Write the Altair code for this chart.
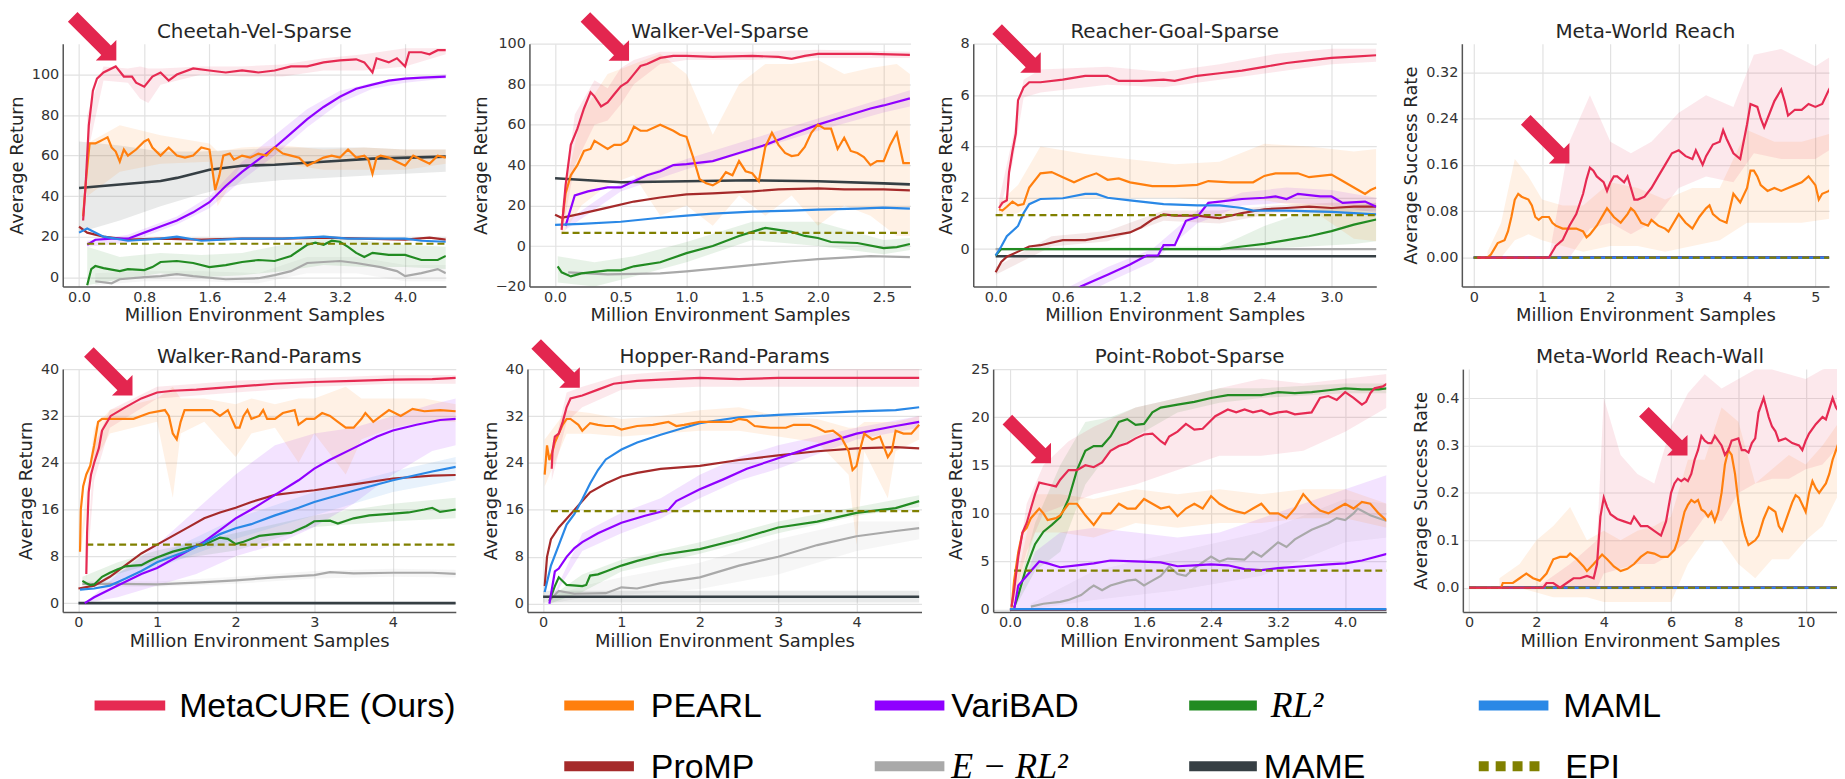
import altair as alt
import pandas as pd

# ---------------- methods / colours ----------------
METHODS = ["MetaCURE (Ours)", "PEARL", "VariBAD", "RL2", "MAML", "ProMP", "E-RL2", "MAME", "EPI"]
COLORS = ["#e62a52", "#ff7f0e", "#8f00ff", "#228b22", "#2a88e6", "#a52a2a", "#a9a9a9", "#363f44", "#808000"]
COLOR = dict(zip(METHODS, COLORS))
DRAW_ORDER = ["E-RL2", "MAME", "ProMP", "RL2", "VariBAD", "MAML", "PEARL", "EPI", "MetaCURE (Ours)"]

# ---------------- Cheetah-Vel-Sparse ----------------
CHEETAH_LINES = {
    "MetaCURE (Ours)": ([0.05, 0.08, 0.12, 0.17, 0.22, 0.3, 0.45, 0.55, 0.65, 0.7, 0.8, 0.9, 1.0, 1.1, 1.2, 1.4, 1.6, 1.8, 2.0, 2.2, 2.4, 2.6, 2.8, 3.0, 3.2, 3.4, 3.5, 3.6, 3.65, 3.8, 3.9, 4.0, 4.05, 4.2, 4.3, 4.4, 4.5],
                        [28, 45, 75, 92, 98, 101, 104, 99, 99, 96, 94, 99, 101, 97, 100, 103, 102, 101, 102, 101, 102, 104, 104, 106, 107, 107.5, 106, 101, 108, 106, 108, 104, 111, 111, 110, 112, 112]),
    "PEARL": ([0.05, 0.09, 0.13, 0.2, 0.25, 0.3, 0.35, 0.4, 0.45, 0.5, 0.55, 0.6, 0.7, 0.8, 0.85, 0.9, 1.0, 1.1, 1.2, 1.3, 1.4, 1.5, 1.6, 1.63, 1.67, 1.72, 1.77, 1.85, 1.9, 2.0, 2.1, 2.2, 2.3, 2.4, 2.5, 2.6, 2.7, 2.8, 2.9, 3.0, 3.1, 3.2, 3.3, 3.4, 3.5, 3.55, 3.6, 3.65, 3.7, 3.8, 3.9, 4.0, 4.1, 4.2, 4.3, 4.4, 4.5],
              [30, 50, 66, 66, 67, 68, 69, 64, 62, 57, 63, 60, 63, 67, 68, 64, 60, 64, 60, 59, 60, 64, 63, 55, 43, 50, 60, 61, 58, 60, 59, 61, 60, 64, 61, 60, 59, 55, 57, 59, 60, 59, 63, 59, 60, 58, 51, 59, 60, 59, 57, 55, 60, 58, 56, 60, 59]),
    "VariBAD": ([0.1, 0.2, 0.4, 0.6, 0.8, 1.0, 1.2, 1.4, 1.6, 1.8, 2.0, 2.2, 2.4, 2.6, 2.8, 3.0, 3.2, 3.4, 3.6, 3.8, 4.0, 4.2, 4.5],
                [16, 18.5, 19, 19, 22, 25, 28, 32, 37, 45, 52, 58, 64, 71, 78, 84, 89, 93, 95, 97, 98, 98.5, 99]),
    "RL2": ([0.1, 0.15, 0.2, 0.3, 0.5, 0.6, 0.8, 0.9, 1.0, 1.2, 1.4, 1.6, 1.8, 2.0, 2.2, 2.4, 2.6, 2.8, 2.9, 3.0, 3.1, 3.2, 3.3, 3.4, 3.5, 3.6, 3.8, 4.0, 4.2, 4.4, 4.5],
            [-4, 4, 5.5, 4.5, 3, 4, 3.5, 5, 7.5, 8, 7, 5, 6, 7.5, 8.5, 8, 10.5, 16, 17, 16, 18, 17.5, 15, 12, 10, 12, 11, 11, 8.5, 8.5, 10.5]),
    "MAML": ([0.0, 0.1, 0.3, 0.6, 1.0, 1.2, 1.5, 2.0, 2.5, 3.0, 3.3, 3.6, 4.0, 4.2, 4.5],
             [22, 24, 20, 18, 19, 20, 18, 19, 19, 20, 19, 19, 19, 18, 17.5]),
    "ProMP": ([0.0, 0.1, 0.3, 0.6, 1.0, 1.5, 2.0, 2.5, 3.0, 3.5, 4.0, 4.3, 4.5],
              [25, 22, 20, 18.5, 19, 18.5, 19, 19, 19.5, 19, 18.5, 19.5, 18.5]),
    "E-RL2": ([0.2, 0.4, 0.5, 0.8, 1.0, 1.2, 1.4, 1.8, 2.2, 2.4, 2.6, 2.8, 3.0, 3.2, 3.4, 3.7, 3.9, 4.0, 4.2, 4.4, 4.5],
              [-2, -3, -1, 0, 0.5, 1.5, 0.5, -1, -0.5, 1, 3, 7, 7.5, 8, 7, 5, 3, 0.5, 2, 4, 2]),
    "MAME": ([0.0, 1.0, 1.2, 1.6, 2.0, 2.4, 3.0, 3.6, 4.5],
             [44, 47.5, 49, 53, 55, 55.5, 57, 58.5, 59.5]),
    "EPI": ([0.1, 4.5], [16.5, 16.5]),
}
CHEETAH_BANDS = {
    "MetaCURE (Ours)": ([0.1, 0.3, 0.6, 0.75, 0.85, 1.0, 1.5, 2.0, 2.5, 3.0, 3.5, 4.0, 4.5],
                        [60, 97, 96, 88, 86, 95, 100, 99, 99, 102, 102, 104, 110],
                        [80, 104, 103, 104, 103, 103, 104, 104, 105, 108, 110, 113, 113]),
    "PEARL": ([0.1, 0.5, 1.0, 1.6, 1.7, 2.0, 2.5, 3.0, 3.5, 4.0, 4.5],
              [40, 52, 56, 57, 35, 56, 56, 53, 53, 53, 56],
              [66, 75, 70, 66, 62, 64, 65, 63, 64, 63, 63]),
    "MAME": ([0.0, 0.5, 1.0, 1.5, 2.0, 2.5, 3.0, 3.5, 4.0, 4.5],
             [22, 28, 35, 41, 46, 48, 49, 50, 51, 52],
             [67, 65, 62, 62, 63, 64, 64, 64, 63, 63]),
    "VariBAD": ([0.1, 0.6, 1.2, 1.6, 2.0, 2.4, 2.8, 3.2, 3.6, 4.0, 4.5],
                [15, 17, 26, 34, 48, 60, 74, 86, 93, 96, 98],
                [18, 21, 30, 40, 57, 70, 83, 92, 96, 98, 100]),
    "RL2": ([0.1, 0.5, 1.0, 1.5, 2.0, 2.5, 3.0, 3.5, 4.0, 4.5],
            [-4, -1, 2, 0, 1, 3, 6, 5, 5, 4],
            [15, 10, 12, 11, 12, 16, 21, 18, 16, 15]),
    "E-RL2": ([0.2, 0.8, 1.5, 2.2, 2.8, 3.4, 4.0, 4.5],
              [-4, -2, -2, -3, 2, 2, -2, -2],
              [2, 3, 3, 2, 10, 10, 6, 6]),
}

# ---------------- Walker-Vel-Sparse ----------------
WALKERVEL_LINES = {
    "MetaCURE (Ours)": ([0.05, 0.08, 0.12, 0.17, 0.22, 0.27, 0.3, 0.35, 0.4, 0.45, 0.5, 0.55, 0.6, 0.65, 0.7, 0.8, 0.9, 1.0, 1.2, 1.5, 1.7, 1.8, 1.9, 2.0, 2.2, 2.4, 2.7],
                        [8, 30, 50, 58, 68, 76, 74, 69, 71, 75, 79, 81, 85, 89, 90, 93, 94, 94, 93.5, 94, 93.5, 92.5, 94, 95, 95, 95, 94.5]),
    "PEARL": ([0.05, 0.08, 0.12, 0.17, 0.22, 0.27, 0.3, 0.35, 0.4, 0.45, 0.5, 0.55, 0.6, 0.65, 0.7, 0.8, 0.9, 0.95, 1.0, 1.05, 1.1, 1.15, 1.2, 1.25, 1.3, 1.35, 1.4, 1.45, 1.5, 1.55, 1.6, 1.65, 1.7, 1.75, 1.8, 1.85, 1.9, 1.95, 2.0, 2.05, 2.1, 2.15, 2.2, 2.25, 2.3, 2.35, 2.4, 2.45, 2.5, 2.55, 2.6, 2.65, 2.7],
              [10, 26, 35, 40, 47, 48, 52, 50, 48, 50, 50, 52, 59, 57, 57, 60, 57, 55, 54, 44, 33, 31, 30, 32, 36.5, 35, 42, 37, 36, 32, 49, 56, 50, 46, 44.5, 45, 49, 56, 60, 58, 58, 48, 53.5, 47, 46, 44, 40, 42, 42, 50, 56, 41, 41]),
    "VariBAD": ([0.08, 0.15, 0.25, 0.4, 0.5, 0.6, 0.7, 0.8, 0.9, 1.0, 1.2, 1.4, 1.6, 1.8, 2.0, 2.2, 2.4, 2.5, 2.7],
                [10, 25, 27, 29, 29, 32, 35, 37, 40, 40.5, 42, 46, 50, 55, 60, 64, 68, 69.5, 73]),
    "MAME": ([0.0, 0.5, 1.0, 1.5, 2.0, 2.5, 2.7], [33.5, 31.5, 32, 32.5, 32, 31, 30.5]),
    "ProMP": ([0.0, 0.05, 0.2, 0.4, 0.6, 0.8, 1.0, 1.2, 1.5, 1.7, 2.0, 2.2, 2.5, 2.7],
              [15.5, 14, 16, 19, 22, 24, 25.5, 26, 27, 28, 28.5, 28, 28, 27.5]),
    "MAML": ([0.0, 0.2, 0.5, 0.8, 1.0, 1.2, 1.5, 1.8, 2.0, 2.3, 2.5, 2.7],
             [10.5, 11, 12, 14, 15, 16, 17, 17.5, 18, 18.5, 19, 18.5]),
    "EPI": ([0.05, 2.7], [6.5, 6.5]),
    "RL2": ([0.02, 0.05, 0.12, 0.2, 0.4, 0.5, 0.6, 0.8, 1.0, 1.2, 1.4, 1.5, 1.6, 1.7, 1.8, 1.9, 2.0, 2.1, 2.3, 2.5, 2.6, 2.7],
            [-10, -13, -15, -13.5, -12, -12, -10, -8, -3.5, 0, 5, 7, 9, 8, 7, 5, 4, 2, 1.5, -1, -0.5, 1]),
    "E-RL2": ([0.1, 0.4, 0.8, 1.0, 1.4, 1.8, 2.0, 2.4, 2.7], [-13, -14, -13.5, -12.5, -10, -7.5, -6.5, -5, -5.5]),
}
WALKERVEL_BANDS = {
    "PEARL": ([0.05, 0.2, 0.4, 0.6, 0.8, 1.0, 1.2, 1.4, 1.6, 1.8, 2.0, 2.2, 2.4, 2.6, 2.7],
              [5, 20, 30, 35, 15, 20, 10, 25, 15, 25, 10, 20, 15, 5, 5],
              [20, 65, 85, 90, 95, 85, 55, 80, 90, 90, 92, 85, 88, 90, 85]),
    "MetaCURE (Ours)": ([0.05, 0.15, 0.3, 0.4, 0.5, 0.6, 0.8, 1.0, 1.5, 2.0, 2.7],
                        [5, 40, 60, 62, 70, 80, 90, 92, 92, 93, 93],
                        [12, 65, 82, 78, 88, 92, 96, 96, 96, 97, 96]),
    "VariBAD": ([0.08, 0.5, 1.0, 1.5, 2.0, 2.5, 2.7], [8, 27, 38, 47, 57, 66, 69], [12, 31, 43, 53, 63, 73, 77]),
    "RL2": ([0.02, 0.3, 0.6, 1.0, 1.5, 2.0, 2.5, 2.7], [-18, -20, -15, -8, 3, 0, -4, -2], [-5, -8, -5, 2, 12, 12, 3, 4]),
}

# ---------------- Reacher-Goal-Sparse ----------------
REACHER_LINES = {
    "MetaCURE (Ours)": ([0.03, 0.06, 0.1, 0.12, 0.15, 0.18, 0.2, 0.25, 0.3, 0.4, 0.6, 0.8, 1.0, 1.1, 1.3, 1.5, 1.6, 1.8, 2.0, 2.2, 2.4, 2.6, 2.8, 3.0, 3.2, 3.4],
                        [1.6, 1.8, 1.9, 3.0, 3.8, 4.5, 5.8, 6.3, 6.5, 6.5, 6.6, 6.75, 6.75, 6.55, 6.55, 6.6, 6.55, 6.75, 6.85, 6.95, 7.1, 7.25, 7.35, 7.45, 7.5, 7.55]),
    "PEARL": ([0.03, 0.06, 0.1, 0.15, 0.2, 0.25, 0.3, 0.4, 0.5, 0.6, 0.7, 0.8, 0.9, 1.0, 1.1, 1.2, 1.4, 1.6, 1.8, 1.9, 2.1, 2.3, 2.4, 2.5, 2.7, 2.8, 3.0, 3.1, 3.2, 3.3, 3.35, 3.4],
              [1.55, 1.5, 1.65, 1.85, 1.7, 1.75, 2.4, 2.95, 3.0, 2.8, 2.6, 2.8, 2.95, 2.7, 2.75, 2.6, 2.45, 2.45, 2.5, 2.65, 2.6, 2.6, 2.85, 2.95, 2.95, 2.8, 2.9, 2.65, 2.4, 2.15, 2.3, 2.4]),
    "MAML": ([0.0, 0.05, 0.1, 0.2, 0.25, 0.3, 0.4, 0.6, 0.8, 0.9, 1.0, 1.2, 1.5, 1.8, 2.0, 2.2, 2.3, 2.6, 3.0, 3.4],
             [-0.25, 0.1, 0.5, 0.9, 1.4, 1.75, 1.95, 1.98, 2.15, 2.15, 2.0, 1.9, 1.75, 1.7, 1.7, 1.6, 1.5, 1.5, 1.45, 1.35]),
    "VariBAD": ([0.6, 0.76, 1.0, 1.2, 1.35, 1.45, 1.5, 1.6, 1.7, 1.8, 1.9, 2.0, 2.2, 2.4, 2.5, 2.6, 2.7, 2.9, 3.0, 3.1, 3.3, 3.4],
                [-2.0, -1.46, -1.0, -0.6, -0.25, -0.25, 0.15, 0.15, 1.1, 1.25, 1.8, 1.85, 1.95, 2.0, 2.05, 1.95, 2.15, 2.05, 2.05, 1.8, 1.85, 1.65]),
    "ProMP": ([0.0, 0.05, 0.1, 0.2, 0.3, 0.4, 0.6, 0.8, 1.0, 1.2, 1.3, 1.4, 1.5, 1.6, 1.8, 2.0, 2.2, 2.4, 2.6, 2.8, 3.0, 3.2, 3.4],
              [-0.9, -0.5, -0.3, -0.1, 0.1, 0.15, 0.35, 0.35, 0.5, 0.65, 0.85, 1.15, 1.35, 1.3, 1.3, 1.2, 1.4, 1.55, 1.6, 1.65, 1.6, 1.65, 1.65]),
    "EPI": ([0.0, 3.4], [1.32, 1.32]),
    "RL2": ([0.0, 0.05, 2.0, 2.2, 2.4, 2.6, 2.8, 3.0, 3.2, 3.4], [-0.25, 0.0, 0.0, 0.1, 0.2, 0.35, 0.5, 0.7, 0.95, 1.15]),
    "E-RL2": ([0.0, 3.4], [0.0, 0.0]),
    "MAME": ([0.0, 3.4], [-0.28, -0.28]),
}
REACHER_BANDS = {
    "PEARL": ([0.03, 0.2, 0.4, 0.8, 1.2, 1.6, 2.0, 2.4, 2.8, 3.2, 3.4],
              [1.3, 1.4, 2.0, 2.0, 2.0, 2.0, 1.9, 1.9, 1.6, 0.4, 0.3],
              [1.8, 2.5, 4.0, 3.7, 3.5, 3.3, 3.4, 4.1, 4.0, 3.8, 3.9]),
    "MetaCURE (Ours)": ([0.03, 0.15, 0.25, 0.4, 1.0, 1.5, 2.0, 2.5, 3.0, 3.4],
                        [1.4, 3.3, 5.9, 6.1, 6.4, 6.3, 6.6, 6.9, 7.2, 7.3],
                        [1.9, 4.3, 6.6, 7.0, 7.1, 6.9, 7.2, 7.6, 7.8, 7.8]),
    "RL2": ([0.0, 2.0, 2.4, 2.8, 3.2, 3.4], [-0.05, -0.05, 0.0, 0.1, 0.2, 0.3], [0.05, 0.1, 0.9, 1.5, 1.7, 1.8]),
    "VariBAD": ([0.6, 1.0, 1.4, 1.8, 2.2, 2.6, 3.0, 3.4], [-2.2, -1.3, -0.5, 1.0, 1.7, 1.8, 1.7, 1.4], [-1.6, -0.7, 0.0, 1.5, 2.2, 2.4, 2.3, 2.0]),
    "ProMP": ([0.0, 0.5, 1.0, 1.5, 2.0, 2.5, 3.0, 3.4], [-1.0, 0.1, 0.3, 1.1, 1.0, 1.4, 1.4, 1.5], [-0.7, 0.5, 0.7, 1.5, 1.5, 1.7, 1.8, 1.8]),
}

# ---------------- Meta-World Reach ----------------
MWREACH_LINES = {
    "MetaCURE (Ours)": ([0.05, 1.1, 1.15, 1.2, 1.3, 1.4, 1.5, 1.6, 1.65, 1.7, 1.75, 1.8, 1.9, 1.95, 2.0, 2.05, 2.1, 2.2, 2.25, 2.3, 2.35, 2.4, 2.5, 2.6, 2.7, 2.8, 2.9, 3.0, 3.1, 3.2, 3.25, 3.35, 3.4, 3.5, 3.6, 3.65, 3.7, 3.8, 3.9, 4.0, 4.05, 4.15, 4.2, 4.25, 4.3, 4.4, 4.5, 4.55, 4.6, 4.7, 4.8, 4.9, 5.0, 5.1, 5.2, 5.25, 5.3, 5.35],
                        [0, 0, 0.01, 0.02, 0.03, 0.055, 0.075, 0.11, 0.135, 0.155, 0.15, 0.14, 0.13, 0.115, 0.13, 0.14, 0.14, 0.13, 0.14, 0.12, 0.1, 0.1, 0.105, 0.12, 0.14, 0.16, 0.18, 0.185, 0.175, 0.17, 0.185, 0.16, 0.175, 0.195, 0.2, 0.22, 0.205, 0.18, 0.17, 0.23, 0.265, 0.26, 0.24, 0.225, 0.24, 0.27, 0.29, 0.27, 0.245, 0.255, 0.255, 0.265, 0.26, 0.265, 0.29, 0.3, 0.285, 0.29]),
    "PEARL": ([0.05, 0.2, 0.25, 0.3, 0.35, 0.45, 0.5, 0.55, 0.6, 0.65, 0.7, 0.8, 0.85, 0.9, 0.95, 1.0, 1.1, 1.15, 1.2, 1.3, 1.4, 1.5, 1.6, 1.65, 1.7, 1.8, 1.9, 1.95, 2.05, 2.15, 2.25, 2.3, 2.35, 2.45, 2.55, 2.6, 2.7, 2.8, 2.85, 2.9, 3.0, 3.1, 3.15, 3.2, 3.3, 3.4, 3.45, 3.5, 3.6, 3.7, 3.75, 3.8, 3.9, 4.0, 4.05, 4.1, 4.15, 4.2, 4.3, 4.4, 4.5, 4.6, 4.7, 4.8, 4.9, 5.0, 5.05, 5.1, 5.2, 5.3, 5.35],
              [0, 0, 0.005, 0.015, 0.025, 0.03, 0.045, 0.07, 0.1, 0.11, 0.105, 0.1, 0.09, 0.07, 0.065, 0.07, 0.07, 0.06, 0.055, 0.05, 0.05, 0.05, 0.045, 0.035, 0.04, 0.055, 0.075, 0.085, 0.07, 0.06, 0.075, 0.085, 0.08, 0.06, 0.055, 0.065, 0.055, 0.05, 0.045, 0.055, 0.075, 0.06, 0.055, 0.05, 0.07, 0.085, 0.09, 0.075, 0.065, 0.06, 0.085, 0.11, 0.095, 0.12, 0.15, 0.15, 0.14, 0.125, 0.115, 0.12, 0.115, 0.12, 0.125, 0.13, 0.14, 0.125, 0.1, 0.11, 0.115, 0.13, 0.14]),
    "VariBAD": ([0.0, 5.4], [0, 0]),
    "RL2": ([0.0, 5.4], [0, 0]),
    "ProMP": ([0.0, 5.4], [0, 0]),
    "E-RL2": ([0.0, 5.4], [0, 0]),
    "MAME": ([0.0, 5.4], [0, 0]),
    "MAML": ([0.0, 5.4], [0, 0]),
    "EPI": ([0.0, 5.4], [0, 0]),
}
MWREACH_BANDS = {
    "MetaCURE (Ours)": ([1.1, 1.4, 1.7, 2.0, 2.3, 2.6, 3.0, 3.4, 3.8, 4.1, 4.5, 5.0, 5.4],
                        [0, 0.0, 0.05, 0.06, 0.04, 0.06, 0.12, 0.14, 0.13, 0.18, 0.17, 0.17, 0.2],
                        [0.0, 0.2, 0.28, 0.2, 0.18, 0.2, 0.25, 0.28, 0.26, 0.35, 0.36, 0.33, 0.36]),
    "PEARL": ([0.2, 0.4, 0.6, 0.8, 1.0, 1.3, 1.6, 2.0, 2.4, 2.8, 3.2, 3.6, 4.0, 4.4, 4.8, 5.4],
              [0, 0, 0.03, 0.04, 0.03, 0.02, 0.01, 0.02, 0.02, 0.01, 0.02, 0.03, 0.06, 0.06, 0.06, 0.07],
              [0.01, 0.06, 0.17, 0.14, 0.1, 0.09, 0.09, 0.13, 0.12, 0.1, 0.12, 0.12, 0.22, 0.2, 0.2, 0.22]),
}

# ---------------- Walker-Rand-Params ----------------
WALKERRAND_LINES = {
    "MetaCURE (Ours)": ([0.1, 0.11, 0.13, 0.16, 0.2, 0.26, 0.3, 0.41, 0.6, 0.8, 1.0, 1.2, 1.5, 2.0, 2.5, 3.0, 3.5, 4.0, 4.5, 4.8],
                        [5, 12, 19, 22, 24, 26.5, 29.5, 32, 33.5, 35, 36, 36.3, 36.5, 37, 37.5, 37.8, 38, 38.2, 38.3, 38.5]),
    "PEARL": ([0.02, 0.03, 0.06, 0.1, 0.15, 0.2, 0.25, 0.3, 0.5, 0.7, 0.9, 1.1, 1.15, 1.2, 1.25, 1.3, 1.35, 1.5, 1.7, 1.8, 1.9, 1.95, 2.0, 2.05, 2.1, 2.15, 2.2, 2.3, 2.35, 2.4, 2.5, 2.6, 2.75, 2.8, 2.9, 3.0, 3.1, 3.2, 3.3, 3.4, 3.5, 3.6, 3.65, 3.75, 3.85, 3.95, 4.1, 4.25, 4.4, 4.6, 4.8],
              [8.8, 16, 20, 22, 23.5, 27, 31, 31.5, 31.5, 31.5, 32.5, 33, 32, 29, 28, 31, 33, 33, 33, 32, 33, 31.5, 30, 30, 32, 33, 31.5, 32, 33, 31.5, 31.5, 32.5, 33, 30.5, 31.5, 31.5, 32.5, 32, 31, 30, 30, 31.5, 32.5, 31, 32, 33, 32, 33.2, 32.8, 33, 32.8]),
    "VariBAD": ([0.08, 0.2, 0.5, 0.8, 1.0, 1.2, 1.4, 1.6, 1.8, 2.0, 2.2, 2.5, 2.8, 3.0, 3.2, 3.5, 3.8, 4.0, 4.3, 4.6, 4.8],
                [0, 1, 3, 5, 6, 7.5, 9, 10.5, 12.5, 14.5, 16, 18.5, 21, 23, 24.5, 26.5, 28.5, 29.5, 30.5, 31.3, 31.5]),
    "ProMP": ([0.0, 0.2, 0.4, 0.6, 0.8, 1.0, 1.2, 1.4, 1.6, 1.8, 2.0, 2.2, 2.5, 2.8, 3.0, 3.5, 4.0, 4.5, 4.8],
              [2.5, 3, 4.5, 6.5, 8.5, 10, 11.5, 13, 14.5, 15.5, 16.3, 17.3, 18.5, 19, 19.3, 20.3, 21.3, 21.8, 21.9]),
    "MAML": ([0.02, 0.2, 0.4, 0.6, 0.8, 1.0, 1.2, 1.4, 1.6, 1.8, 2.0, 2.2, 2.5, 2.8, 3.0, 3.5, 4.0, 4.5, 4.8],
             [2.3, 2.5, 3, 4.2, 5.5, 7, 8, 9, 10.3, 11.8, 12.8, 13.5, 15, 16.3, 17.3, 19.2, 21, 22.5, 23.3]),
    "RL2": ([0.05, 0.1, 0.15, 0.2, 0.3, 0.4, 0.5, 0.6, 0.7, 0.8, 0.9, 1.0, 1.2, 1.4, 1.6, 1.8, 1.9, 2.0, 2.1, 2.3, 2.5, 2.7, 2.9, 3.0, 3.2, 3.3, 3.5, 3.7, 4.0, 4.2, 4.4, 4.5, 4.6, 4.7, 4.8],
            [3.8, 3.4, 3.1, 3.2, 4.5, 5.2, 5.8, 6.3, 6.4, 6.5, 7.2, 7.8, 8.8, 9.5, 10, 11.2, 11, 10.1, 10.5, 11.5, 11.8, 12, 13.2, 14, 14.1, 13.6, 14.5, 15, 15.3, 15.5, 16, 16.3, 15.6, 15.8, 16]),
    "E-RL2": ([0.05, 0.5, 1.0, 1.5, 2.0, 2.5, 3.0, 3.2, 3.5, 4.0, 4.5, 4.8],
              [3.3, 3.3, 3.2, 3.5, 3.9, 4.4, 4.8, 5.3, 5.1, 5.2, 5.2, 5.0]),
    "MAME": ([0.0, 4.8], [0, 0]),
    "EPI": ([0.1, 4.8], [10, 10]),
}
WALKERRAND_BANDS = {
    "PEARL": ([0.02, 0.2, 0.4, 1.0, 1.2, 1.3, 1.6, 2.0, 2.2, 2.5, 2.8, 3.0, 3.4, 3.6, 4.0, 4.4, 4.8],
              [8, 24, 29, 31, 18, 29, 31, 25, 29, 30, 24, 29, 22, 28, 30, 31, 31],
              [10, 30, 33, 35, 37, 35, 35, 34, 35, 34, 35, 35, 37, 35, 35, 35, 34]),
    "VariBAD": ([0.08, 0.5, 1.0, 1.5, 2.0, 2.5, 3.0, 3.5, 4.0, 4.5, 4.8],
                [0, 1, 3, 5, 8, 10, 13, 17, 22, 26, 27],
                [0, 5, 10, 16, 22, 27, 29, 30, 32, 34, 35]),
    "MAML": ([0.02, 1.0, 2.0, 3.0, 4.0, 4.8], [2, 6, 11, 15, 19, 21], [2.6, 8, 14.5, 19, 22.5, 25]),
    "RL2": ([0.05, 0.5, 1.0, 2.0, 3.0, 4.0, 4.8], [3, 5, 7, 9, 13, 14, 14.5], [4.5, 7, 9, 12, 15, 17, 18]),
    "MetaCURE (Ours)": ([0.1, 0.2, 0.4, 1.0, 2.0, 3.0, 4.0, 4.8], [4, 21, 30, 35, 36, 37, 37.5, 37.5], [6, 27, 33, 37, 38, 38.5, 39, 39]),
    "E-RL2": ([0.05, 1.0, 2.0, 3.0, 4.0, 4.8], [2.8, 2.8, 3.3, 4.2, 4.5, 4.4], [3.8, 3.7, 4.5, 5.5, 5.9, 5.7]),
}

# ---------------- Hopper-Rand-Params ----------------
HOPPER_LINES = {
    "MetaCURE (Ours)": ([0.11, 0.12, 0.15, 0.2, 0.25, 0.3, 0.35, 0.5, 0.7, 0.9, 1.2, 1.5, 2.0, 2.5, 3.0, 3.5, 4.0, 4.5, 4.8],
                        [23, 26, 28.5, 29, 31, 33.5, 35, 35.5, 36.5, 37.5, 38, 38.2, 38.5, 38.3, 38.5, 38.5, 38.5, 38.5, 38.5]),
    "PEARL": ([0.02, 0.05, 0.08, 0.12, 0.15, 0.2, 0.25, 0.3, 0.35, 0.45, 0.5, 0.6, 0.7, 0.8, 0.9, 1.0, 1.2, 1.4, 1.6, 1.7, 1.8, 2.0, 2.2, 2.4, 2.5, 2.6, 2.7, 2.9, 3.1, 3.2, 3.4, 3.5, 3.6, 3.7, 3.8, 3.9, 3.95, 4.0, 4.05, 4.1, 4.2, 4.3, 4.4, 4.45, 4.5, 4.6, 4.7, 4.8],
              [22, 27, 24.5, 26, 27.5, 29, 30.5, 31.5, 31.5, 30.5, 29.5, 30.8, 30.5, 30.3, 30.3, 29.7, 30.3, 30.5, 31, 30.3, 30.5, 31, 31, 31, 31.5, 31.3, 30.3, 30, 30, 30.5, 30.5, 30, 29.3, 29.5, 28.5, 26, 22.8, 23.5, 26.5, 29, 28, 28.5, 25, 26, 29.5, 29, 29, 30.5]),
    "MAML": ([0.02, 0.1, 0.2, 0.3, 0.4, 0.5, 0.6, 0.7, 0.8, 1.0, 1.2, 1.5, 1.8, 2.0, 2.5, 3.0, 3.5, 4.0, 4.5, 4.8],
             [2, 6.5, 10, 13.5, 15.3, 17.8, 20.5, 22.8, 24.6, 26.3, 27.5, 28.8, 30, 30.8, 31.8, 32.2, 32.5, 32.8, 33, 33.5]),
    "ProMP": ([0.02, 0.05, 0.1, 0.2, 0.3, 0.4, 0.5, 0.6, 0.8, 1.0, 1.2, 1.5, 2.0, 2.5, 3.0, 3.5, 4.0, 4.5, 4.8],
              [3, 8, 11, 13, 14.5, 16, 17.5, 19, 20.5, 21.7, 22.3, 23, 23.5, 24.5, 25.3, 26, 26.5, 26.7, 26.5]),
    "VariBAD": ([0.08, 0.15, 0.2, 0.3, 0.4, 0.5, 0.7, 1.0, 1.3, 1.6, 1.7, 2.0, 2.3, 2.6, 3.0, 3.5, 4.0, 4.5, 4.8],
                [0, 5.5, 6, 8, 9.5, 10.5, 12, 13.8, 15, 16, 17.5, 19.5, 21.2, 23, 24.8, 27, 29, 30.3, 31]),
    "RL2": ([0.08, 0.15, 0.2, 0.3, 0.5, 0.55, 0.6, 0.7, 0.8, 1.0, 1.2, 1.5, 2.0, 2.5, 3.0, 3.5, 4.0, 4.5, 4.8],
            [0.5, 3, 4.5, 3.2, 3, 3.2, 4.8, 5, 5.5, 6.5, 7.3, 8.3, 9.3, 11, 13, 14, 15.5, 16.3, 17.5]),
    "E-RL2": ([0.08, 0.2, 0.4, 0.8, 1.0, 1.2, 1.5, 2.0, 2.5, 3.0, 3.5, 4.0, 4.5, 4.8],
              [0.5, 2.2, 1.7, 1.8, 2.8, 2.6, 3.5, 4.5, 6.5, 8, 10, 11.5, 12.4, 12.9]),
    "MAME": ([0.0, 4.8], [1.2, 1.2]),
    "EPI": ([0.1, 4.8], [15.8, 15.8]),
}
HOPPER_BANDS = {
    "MetaCURE (Ours)": ([0.11, 0.3, 0.5, 1.0, 2.0, 3.0, 4.0, 4.8], [21, 31, 33.5, 36.5, 37, 37, 37, 37], [25, 36, 37, 39, 40, 40, 40, 40]),
    "PEARL": ([0.02, 0.3, 0.6, 1.0, 1.5, 2.0, 2.5, 3.0, 3.5, 3.9, 4.0, 4.1, 4.4, 4.5, 4.8],
              [20, 29, 29, 28.5, 29, 29.5, 29.5, 28.5, 27.5, 22, 10, 26, 18, 26, 28],
              [28, 33, 32.5, 31.5, 32, 33, 33.5, 32, 31.5, 30, 30, 31, 31, 31, 32]),
    "VariBAD": ([0.08, 0.5, 1.0, 1.5, 2.0, 2.5, 3.0, 3.5, 4.0, 4.8], [0, 9, 12, 14.5, 18, 21, 23, 25.5, 28, 30], [0, 12, 15.5, 18, 22, 25, 27, 28.5, 30, 32]),
    "E-RL2": ([0.08, 0.5, 1.0, 2.0, 3.0, 4.0, 4.8], [0, 1, 1.5, 2.5, 5, 9, 11], [1, 3, 4.5, 7, 11, 14, 14]),
    "RL2": ([0.08, 0.5, 1.0, 2.0, 3.0, 4.0, 4.8], [0, 2, 5.5, 8.5, 12, 15, 16.5], [1, 5, 7.5, 10.5, 14, 16.5, 18.5]),
    "MAME": ([0.0, 4.8], [0.2, 0.2], [2.2, 2.2]),
}

# ---------------- Point-Robot-Sparse ----------------
POINT_LINES = {
    "MetaCURE (Ours)": ([0.02, 0.05, 0.1, 0.15, 0.2, 0.25, 0.3, 0.35, 0.45, 0.55, 0.6, 0.7, 0.8, 0.9, 1.0, 1.1, 1.2, 1.3, 1.4, 1.5, 1.6, 1.7, 1.8, 1.85, 1.9, 2.0, 2.1, 2.2, 2.3, 2.45, 2.6, 2.7, 2.8, 2.9, 3.0, 3.1, 3.2, 3.3, 3.4, 3.5, 3.6, 3.7, 3.8, 3.9, 4.0, 4.1, 4.2, 4.25, 4.3, 4.35, 4.45, 4.5],
                        [0.3, 2, 5.5, 8, 9, 10.5, 12, 13.2, 13, 12.8, 13.5, 14.5, 14.5, 15, 14.8, 15.3, 16.5, 17, 17.3, 17.8, 18.2, 18.3, 17.5, 17.2, 18, 18.5, 19.3, 18.7, 18.8, 20.1, 20.8, 20.5, 20.8, 20.5, 20.7, 20.3, 20.5, 20.6, 20.3, 20.4, 20.5, 22.0, 22.2, 21.8, 22.6, 22, 21.3, 21.6, 22.5, 23, 23.2, 23.5]),
    "RL2": ([0.05, 0.1, 0.15, 0.2, 0.3, 0.4, 0.5, 0.6, 0.7, 0.8, 0.9, 1.0, 1.1, 1.2, 1.3, 1.4, 1.5, 1.6, 1.7, 1.8, 2.0, 2.2, 2.4, 2.6, 2.8, 3.0, 3.2, 3.4, 3.6, 3.8, 4.0, 4.2, 4.4, 4.5],
            [0.2, 1.5, 3, 4.5, 6.8, 8.1, 8.8, 9.6, 11.5, 14.5, 16.5, 17, 17, 18, 19.5, 19.8, 19.2, 19.3, 20.5, 21, 21.3, 21.6, 22, 22.3, 22.3, 22.3, 22.6, 22.5, 22.6, 22.8, 23, 22.9, 22.9, 23]),
    "PEARL": ([0.02, 0.05, 0.1, 0.15, 0.2, 0.25, 0.35, 0.4, 0.45, 0.55, 0.6, 0.7, 0.8, 0.9, 1.0, 1.1, 1.2, 1.3, 1.4, 1.5, 1.6, 1.7, 1.8, 1.9, 2.0, 2.1, 2.2, 2.3, 2.4, 2.5, 2.6, 2.7, 2.8, 2.9, 3.0, 3.1, 3.2, 3.3, 3.4, 3.5, 3.6, 3.7, 3.8, 3.9, 4.0, 4.1, 4.2, 4.3, 4.4, 4.5],
              [0.2, 3, 6, 8, 8.5, 9.5, 10.5, 10, 9.3, 9.5, 9.8, 11, 11, 9.8, 8.8, 10, 10, 11, 10.5, 10.5, 11.5, 11, 10.5, 10.7, 9.7, 10.5, 11, 10.5, 11.8, 11, 10.5, 10.2, 10, 10.5, 11, 10, 10, 9.5, 10.5, 12, 11, 10.3, 10, 10.5, 11, 10.5, 11.2, 11, 10, 9.2]),
    "VariBAD": ([0.05, 0.1, 0.15, 0.25, 0.35, 0.45, 0.6, 0.8, 1.0, 1.2, 1.5, 1.8, 2.0, 2.2, 2.4, 2.6, 2.8, 3.0, 3.2, 3.5, 3.8, 4.0, 4.2, 4.5],
                [0, 2.5, 3, 4, 5, 4.8, 4.4, 4.6, 4.8, 5.1, 5, 4.9, 4.5, 4.6, 4.7, 4.6, 4.2, 4.1, 4.3, 4.5, 4.7, 4.8, 5.1, 5.8]),
    "E-RL2": ([0.25, 0.4, 0.6, 0.7, 0.85, 0.95, 1.0, 1.1, 1.2, 1.4, 1.5, 1.6, 1.7, 1.8, 1.9, 2.0, 2.1, 2.2, 2.4, 2.5, 2.6, 2.8, 2.9, 3.0, 3.2, 3.3, 3.4, 3.6, 3.8, 3.9, 4.0, 4.1, 4.15, 4.3, 4.4, 4.5],
              [0.3, 0.6, 0.8, 1, 1.5, 2.2, 2.5, 2, 2.5, 3, 3.1, 2.5, 3, 3.5, 4.5, 3.7, 3.5, 4.3, 5.5, 5, 5.3, 5.2, 6, 5.5, 7, 6.5, 7.3, 8.3, 9, 9.5, 9.3, 10, 10.5, 9.8, 9.5, 9.2]),
    "ProMP": ([0.0, 4.5], [0, 0]),
    "MAME": ([0.0, 4.5], [0, 0]),
    "MAML": ([0.0, 4.5], [0.05, 0.05]),
    "EPI": ([0.05, 4.5], [4.05, 4.05]),
}
POINT_BANDS = {
    "VariBAD": ([0.05, 0.3, 0.6, 1.0, 1.5, 2.0, 2.5, 3.0, 3.5, 4.0, 4.5],
                [0, 0, 0, 0, 0, 0, 0, 0, 0, 0, 0],
                [0, 6, 8, 8.5, 8, 7.5, 8, 9.5, 11, 12.5, 14]),
    "MetaCURE (Ours)": ([0.02, 0.2, 0.4, 0.7, 1.0, 1.5, 2.0, 2.5, 3.0, 3.5, 4.0, 4.5],
                        [0, 6, 10, 11, 12, 13, 14.5, 16, 16, 16.5, 18.5, 21],
                        [0.5, 11, 15, 17.5, 19, 21, 22, 23, 24, 23.5, 24, 24.5]),
    "RL2": ([0.05, 0.3, 0.6, 0.9, 1.2, 1.5, 2.0, 2.5, 3.0, 4.0, 4.5],
            [0, 4, 6, 13, 16.5, 18, 20.5, 21.5, 22, 22.5, 22.5],
            [0.5, 9, 15, 19.5, 20, 21, 22, 23, 23, 23.5, 23.5]),
    "PEARL": ([0.02, 0.3, 0.6, 1.0, 1.5, 2.0, 2.5, 3.0, 3.5, 4.0, 4.5],
              [0, 8, 8, 7.5, 9, 8.5, 9, 9, 9.5, 9.5, 8.5],
              [0.5, 12, 12, 11.5, 12.5, 12, 12.5, 12, 12.5, 12.5, 11]),
    "E-RL2": ([0.25, 1.0, 2.0, 3.0, 4.0, 4.5], [0, 1, 2, 3.5, 7, 7.5], [0.6, 4, 6, 8, 11.5, 11]),
}

# ---------------- Meta-World Reach-Wall ----------------
MWWALL_LINES = {
    "MetaCURE (Ours)": ([0.0, 2.2, 2.3, 2.5, 2.7, 2.9, 3.1, 3.3, 3.5, 3.7, 3.8, 3.9, 4.0, 4.1, 4.2, 4.4, 4.6, 4.8, 4.9, 5.1, 5.3, 5.5, 5.7, 5.85, 6.0, 6.1, 6.2, 6.3, 6.4, 6.5, 6.6, 6.7, 6.8, 6.9, 7.0, 7.1, 7.2, 7.3, 7.4, 7.5, 7.6, 7.7, 7.8, 8.0, 8.1, 8.2, 8.3, 8.4, 8.5, 8.6, 8.75, 8.9, 9.0, 9.1, 9.2, 9.4, 9.6, 9.8, 9.9, 10.0, 10.1, 10.3, 10.5, 10.6, 10.8, 10.9, 11.0, 11.1, 11.2, 11.3],
                        [0, 0, 0.01, 0.01, 0, 0.01, 0.02, 0.02, 0.025, 0.02, 0.05, 0.15, 0.19, 0.17, 0.155, 0.145, 0.14, 0.135, 0.15, 0.13, 0.13, 0.12, 0.11, 0.14, 0.2, 0.22, 0.23, 0.225, 0.23, 0.225, 0.24, 0.27, 0.29, 0.32, 0.31, 0.305, 0.305, 0.32, 0.31, 0.3, 0.28, 0.29, 0.31, 0.315, 0.29, 0.29, 0.285, 0.305, 0.315, 0.37, 0.4, 0.36, 0.34, 0.33, 0.31, 0.315, 0.305, 0.3, 0.29, 0.31, 0.325, 0.345, 0.36, 0.355, 0.4, 0.38, 0.37, 0.365, 0.37, 0.365]),
    "PEARL": ([0.0, 0.95, 1.0, 1.3, 1.5, 1.7, 1.9, 2.1, 2.3, 2.5, 2.7, 2.9, 3.0, 3.2, 3.4, 3.5, 3.7, 3.95, 4.1, 4.3, 4.5, 4.7, 4.9, 5.1, 5.3, 5.5, 5.7, 5.9, 6.1, 6.2, 6.3, 6.4, 6.5, 6.6, 6.7, 6.8, 6.9, 7.0, 7.1, 7.2, 7.3, 7.4, 7.5, 7.6, 7.7, 7.8, 7.9, 8.0, 8.1, 8.2, 8.3, 8.4, 8.5, 8.6, 8.75, 8.9, 9.0, 9.1, 9.2, 9.3, 9.4, 9.6, 9.7, 9.8, 9.9, 10.0, 10.1, 10.2, 10.3, 10.4, 10.5, 10.6, 10.7, 10.8, 10.9, 11.0, 11.1, 11.2, 11.3],
              [0, 0, 0.01, 0.01, 0.02, 0.03, 0.02, 0.015, 0.03, 0.06, 0.065, 0.065, 0.072, 0.06, 0.045, 0.035, 0.05, 0.07, 0.06, 0.045, 0.035, 0.04, 0.05, 0.065, 0.075, 0.072, 0.065, 0.065, 0.08, 0.1, 0.13, 0.16, 0.175, 0.185, 0.18, 0.185, 0.165, 0.16, 0.15, 0.16, 0.14, 0.16, 0.2, 0.26, 0.29, 0.28, 0.24, 0.18, 0.14, 0.11, 0.09, 0.095, 0.1, 0.11, 0.145, 0.17, 0.165, 0.16, 0.13, 0.12, 0.14, 0.18, 0.195, 0.19, 0.175, 0.16, 0.2, 0.225, 0.21, 0.2, 0.21, 0.22, 0.24, 0.27, 0.29, 0.31, 0.3, 0.3, 0.29]),
    "VariBAD": ([0.0, 11.3], [0, 0]),
    "RL2": ([0.0, 11.3], [0, 0]),
    "ProMP": ([0.0, 11.3], [0, 0]),
    "E-RL2": ([0.0, 11.3], [0, 0]),
    "MAME": ([0.0, 11.3], [0, 0]),
    "MAML": ([0.0, 11.3], [0, 0]),
    "EPI": ([0.0, 11.3], [0, 0]),
}
MWWALL_BANDS = {
    "MetaCURE (Ours)": ([2.0, 3.0, 3.8, 4.0, 4.5, 5.0, 5.5, 6.0, 6.5, 7.0, 7.5, 8.0, 8.5, 9.0, 9.5, 10.0, 10.5, 11.0, 11.3],
                        [0, 0, 0, 0.03, 0.04, 0.05, 0.05, 0.07, 0.1, 0.15, 0.14, 0.2, 0.22, 0.23, 0.23, 0.25, 0.26, 0.3, 0.3],
                        [0, 0.05, 0.1, 0.4, 0.28, 0.24, 0.22, 0.34, 0.41, 0.45, 0.42, 0.44, 0.46, 0.46, 0.45, 0.44, 0.46, 0.47, 0.47]),
    "PEARL": ([0.9, 1.5, 2.0, 2.5, 3.0, 3.5, 4.0, 4.5, 5.0, 5.5, 6.0, 6.5, 7.0, 7.5, 8.0, 8.5, 9.0, 9.5, 10.0, 10.5, 11.0, 11.3],
              [0, 0, -0.01, -0.02, -0.02, -0.02, -0.03, -0.03, -0.03, -0.03, -0.03, 0.05, 0.1, 0.1, 0.05, 0.02, 0.06, 0.06, 0.1, 0.13, 0.2, 0.2],
              [0.02, 0.05, 0.1, 0.13, 0.17, 0.1, 0.12, 0.1, 0.12, 0.13, 0.15, 0.27, 0.27, 0.38, 0.35, 0.22, 0.25, 0.28, 0.26, 0.3, 0.35, 0.35]),
}

# ---------------- panel settings ----------------
X_TITLE = "Million Environment Samples"
PANELS = [
    dict(title="Cheetah-Vel-Sparse", lines=CHEETAH_LINES, bands=CHEETAH_BANDS, xdom=[-0.2, 4.5], ydom=[-4.6, 115.2],
         xticks=[0, 0.8, 1.6, 2.4, 3.2, 4.0], yticks=[0, 20, 40, 60, 80, 100], xfmt=".1f", yfmt="d",
         ytitle="Average Return", w=385, h=244, arrow=(0.19, 117.7)),
    dict(title="Walker-Vel-Sparse", lines=WALKERVEL_LINES, bands=WALKERVEL_BANDS, xdom=[-0.195, 2.705], ydom=[-20, 100],
         xticks=[0, 0.5, 1.0, 1.5, 2.0, 2.5], yticks=[-20, 0, 20, 40, 60, 80, 100], xfmt=".1f", yfmt="d",
         ytitle="Average Return", w=383, h=244, arrow=(0.397, 102.4)),
    dict(title="Reacher-Goal-Sparse", lines=REACHER_LINES, bands=REACHER_BANDS, xdom=[-0.2, 3.4], ydom=[-1.46, 8],
         xticks=[0, 0.6, 1.2, 1.8, 2.4, 3.0], yticks=[0, 2, 4, 6, 8], xfmt=".1f", yfmt="d",
         ytitle="Average Return", w=405, h=244, arrow=(0.208, 7.72)),
    dict(title="Meta-World Reach", lines=MWREACH_LINES, bands=MWREACH_BANDS, xdom=[-0.175, 5.2], ydom=[-0.05, 0.369],
         xticks=[0, 1, 2, 3, 4, 5], yticks=[0, 0.08, 0.16, 0.24, 0.32], xfmt="d", yfmt=".2f",
         ytitle="Average Success Rate", w=369, h=244, arrow=(1.08, 0.2)),
    dict(title="Walker-Rand-Params", lines=WALKERRAND_LINES, bands=WALKERRAND_BANDS, xdom=[-0.2, 4.8], ydom=[-1.5, 40],
         xticks=[0, 1, 2, 3, 4], yticks=[0, 8, 16, 24, 32, 40], xfmt="d", yfmt="d",
         ytitle="Average Return", w=395, h=244, arrow=(0.41, 39.2)),
    dict(title="Hopper-Rand-Params", lines=HOPPER_LINES, bands=HOPPER_BANDS, xdom=[-0.2, 4.83], ydom=[-1.4, 40],
         xticks=[0, 1, 2, 3, 4], yticks=[0, 8, 16, 24, 32, 40], xfmt="d", yfmt="d",
         ytitle="Average Return", w=396, h=244, arrow=(0.19, 40.56)),
    dict(title="Point-Robot-Sparse", lines=POINT_LINES, bands=POINT_BANDS, xdom=[-0.2, 4.49], ydom=[-0.25, 25],
         xticks=[0, 0.8, 1.6, 2.4, 3.2, 4.0], yticks=[0, 5, 10, 15, 20, 25], xfmt=".1f", yfmt="d",
         ytitle="Average Return", w=395, h=244, arrow=(0.23, 17.48)),
    dict(title="Meta-World Reach-Wall", lines=MWWALL_LINES, bands=MWWALL_BANDS, xdom=[-0.187, 10.93], ydom=[-0.051, 0.461],
         xticks=[0, 2, 4, 6, 8, 10], yticks=[0, 0.1, 0.2, 0.3, 0.4], xfmt="d", yfmt=".1f",
         ytitle="Average Success Rate", w=376, h=244, arrow=(5.84, 0.325)),
]

# down-right block arrow (unit symbol path, tip at lower right)
ARROW_PATH = "M -0.552 -0.863 L 0.530 0.219 L 0.707 0.042 L 0.707 0.707 L 0.042 0.707 L 0.219 0.530 L -0.863 -0.552 Z"
ARROW_SIZE = 3844
ARROW_COLOR = "#e3264f"

FONT = "DejaVu Sans"


def frame(xs, ys):
    n = min(len(xs), len(ys))
    return pd.DataFrame({"x": xs[:n], "y": ys[:n]})


def make_panel(p):
    xsc = alt.Scale(domain=p["xdom"], nice=False, zero=False)
    ysc = alt.Scale(domain=p["ydom"], nice=False, zero=False)
    xax = alt.Axis(values=p["xticks"], format=p["xfmt"], title=X_TITLE)
    yax = alt.Axis(values=p["yticks"], format=p["yfmt"], title=p["ytitle"])

    def X(f="x"):
        return alt.X(f, type="quantitative", scale=xsc, axis=xax)

    def Y(f="y"):
        return alt.Y(f, type="quantitative", scale=ysc, axis=yax)

    layers = []
    for m in DRAW_ORDER:
        if m in p["bands"]:
            bx, lo, hi = p["bands"][m]
            n = min(len(bx), len(lo), len(hi))
            df = pd.DataFrame({"x": bx[:n], "lo": lo[:n], "hi": hi[:n]})
            layers.append(alt.Chart(df).mark_area(color=COLOR[m], opacity=0.11, clip=True)
                          .encode(x=X(), y=Y("lo"), y2=alt.Y2("hi")))
    for m in DRAW_ORDER:
        if m in p["lines"]:
            lx, ly = p["lines"][m]
            kw = dict(color=COLOR[m], strokeWidth=2.2, clip=True)
            if m == "EPI":
                kw["strokeDash"] = [7, 4]
            if m == "MAME":
                kw["strokeWidth"] = 2.6
            layers.append(alt.Chart(frame(lx, ly)).mark_line(**kw).encode(x=X(), y=Y()))
    adf = pd.DataFrame({"x": [p["arrow"][0]], "y": [p["arrow"][1]]})
    layers.append(alt.Chart(adf).mark_point(shape=ARROW_PATH, size=ARROW_SIZE, filled=True, color=ARROW_COLOR,
                                            opacity=1, strokeWidth=0, clip=False)
                  .encode(x=X(), y=Y()))
    tdf = pd.DataFrame({"t": [p["title"]]})
    layers.append(alt.Chart(tdf).mark_text(font=FONT, fontSize=20, color="#262626", align="center",
                                           baseline="alphabetic", clip=False)
                  .encode(text="t:N", x=alt.value(p["w"] / 2), y=alt.value(-6)))
    return alt.layer(*layers).properties(width=p["w"], height=p["h"])


row1 = alt.hconcat(*[make_panel(p) for p in PANELS[:4]], spacing=26)
row2 = alt.hconcat(*[make_panel(p) for p in PANELS[4:]], spacing=26)

# ---------------- legend ----------------
LEG_LABELS = ["MetaCURE (Ours)", "PEARL", "VariBAD", "RL²", "MAML", "ProMP", "E − RL²", "MAME", "EPI"]
LEG_KEYS = ["MetaCURE (Ours)", "PEARL", "VariBAD", "RL2", "MAML", "ProMP", "E-RL2", "MAME", "EPI"]
LEG_MATH = [False, False, False, True, False, False, True, False, False]
LEG_SYM_X0 = [94, 566, 878, 1194, 1485, 566, 878, 1194, 1485]
LEG_SYM_X1 = [165, 636, 948, 1262, 1555, 636, 948, 1262, 1553]
LEG_TEXT_X = [179, 653, 955, 1276, 1570, 653, 955, 1269, 1572]
LEG_ROW_Y = [706, 706, 706, 706, 706, 767, 767, 767, 767]
LEG_TOP = 664
LEG_BOTTOM = 779
LEG_LEFT = 62
LEG_RIGHT = 1835

leg_df = pd.DataFrame({
    "key": LEG_KEYS, "label": LEG_LABELS, "math": LEG_MATH,
    "x0": LEG_SYM_X0, "x1": LEG_SYM_X1, "tx": LEG_TEXT_X, "y": LEG_ROW_Y,
    "ty": [v + 12 for v in LEG_ROW_Y],
})
lx = alt.Scale(domain=[LEG_LEFT, LEG_RIGHT], nice=False, zero=False)
ly = alt.Scale(domain=[LEG_TOP, LEG_BOTTOM], nice=False, zero=False, reverse=True)
cscale = alt.Scale(domain=METHODS, range=COLORS)

leg_solid = alt.Chart(leg_df).transform_filter(alt.datum.key != "EPI").mark_rule(strokeWidth=10, strokeCap="butt", clip=False).encode(
    x=alt.X("x0:Q", scale=lx, axis=None), x2="x1:Q",
    y=alt.Y("y:Q", scale=ly, axis=None),
    color=alt.Color("key:N", scale=cscale, legend=None))
leg_dash = alt.Chart(leg_df).transform_filter(alt.datum.key == "EPI").mark_rule(strokeWidth=10, strokeCap="butt", strokeDash=[10, 7], clip=False).encode(
    x=alt.X("x0:Q", scale=lx, axis=None), x2="x1:Q",
    y=alt.Y("y:Q", scale=ly, axis=None),
    color=alt.Color("key:N", scale=cscale, legend=None))
leg_text = alt.Chart(leg_df).transform_filter(~alt.datum.math).mark_text(
    font="Liberation Sans Narrow, Arial Narrow, Liberation Sans", fontSize=34, align="left", baseline="alphabetic",
    color="#000000", clip=True).encode(
    x=alt.X("tx:Q", scale=lx, axis=None), y=alt.Y("ty:Q", scale=ly, axis=None), text="label:N")
leg_math = alt.Chart(leg_df).transform_filter(alt.datum.math).mark_text(
    font="Liberation Serif", fontStyle="italic", fontSize=36, align="left", baseline="alphabetic",
    color="#000000", clip=True).encode(
    x=alt.X("tx:Q", scale=lx, axis=None), y=alt.Y("ty:Q", scale=ly, axis=None), text="label:N")
legend = alt.layer(leg_solid, leg_dash, leg_text, leg_math).properties(
    width=LEG_RIGHT - LEG_LEFT, height=LEG_BOTTOM - LEG_TOP)

chart = alt.vconcat(row1, row2, legend, spacing=13).properties(
    padding={"left": 0, "top": 2, "right": 0, "bottom": 0}
).configure_view(stroke=None).configure_axis(
    grid=True, gridColor="#e2e2e2", gridWidth=1.2,
    domainColor="#555555", domainWidth=1.5,
    ticks=False, tickSize=0,
    labelFont=FONT, labelFontSize=14.5, labelColor="#333333", labelPadding=4,
    labelOverlap=False, labelFlush=False,
    titleFont=FONT, titleFontSize=18, titleFontWeight="normal", titleColor="#262626", titlePadding=5,
).configure_axisX(titlePadding=3)

chart.save("out.html", embed_options={"renderer": "svg", "actions": False})
